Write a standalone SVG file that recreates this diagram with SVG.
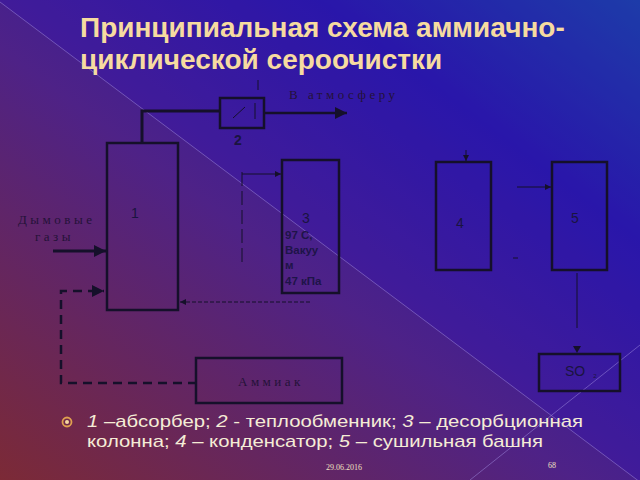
<svg xmlns="http://www.w3.org/2000/svg" width="640" height="480" viewBox="0 0 640 480">
<defs>
<linearGradient id="bg" x1="0" y1="1" x2="1" y2="0">
<stop offset="0" stop-color="#7c2a36"/>
<stop offset="0.45" stop-color="#4e2287"/>
<stop offset="0.75" stop-color="#2a1aa2"/>
<stop offset="1" stop-color="#1a4aa0"/>
</linearGradient>
<marker id="ah" viewBox="0 0 10 10" refX="10" refY="5" markerWidth="6" markerHeight="6" orient="auto" markerUnits="userSpaceOnUse">
<path d="M0,0 L10,5 L0,10 z" fill="#15102a"/>
</marker>
<marker id="ahb" viewBox="0 0 10 10" refX="10" refY="5" markerWidth="16" markerHeight="12" orient="auto" markerUnits="userSpaceOnUse">
<path d="M0,0 L10,5 L0,10 z" fill="#15102a"/>
</marker>
</defs>
<style>
.box{fill:none;stroke:#15102a;stroke-width:2.5}
.num{font-family:"Liberation Sans",Arial,sans-serif;font-size:14px;fill:#1a1440}
.ser{font-family:"Liberation Serif","Times New Roman",serif;font-size:13px;fill:#241238;letter-spacing:3.5px}
.thin{stroke:#15102a;stroke-width:1;fill:none}
.thick{stroke:#15102a;stroke-width:3;fill:none}
.title{font-family:"Liberation Sans",Arial,sans-serif;font-weight:bold;font-size:28px;fill:#f6dba0}
.body{font-family:"Liberation Sans",Arial,sans-serif;font-size:17px;fill:#f5ecd6}
.foot{font-family:"Liberation Serif","Times New Roman",serif;font-size:8px;fill:#f0e0c0}
</style>
<rect width="640" height="480" fill="url(#bg)"/>
<polygon points="0,0 640,0 640,482 0,2" fill="#2a08c8" opacity="0.22"/>
<line x1="0" y1="2" x2="640" y2="482" stroke="#a08ce0" stroke-width="1" opacity="0.5"/>
<line x1="640" y1="345" x2="470" y2="480" stroke="#a08ce0" stroke-width="1" opacity="0.5"/>

<text class="title" x="80" y="37">Принципиальная схема аммиачно-</text>
<text class="title" x="80" y="69">циклической сероочистки</text>

<g id="connectors">
<polyline class="thick" points="142,143 142,111 220,111"/>
<line x1="264" y1="113" x2="347" y2="113" stroke="#15102a" stroke-width="2.5" marker-end="url(#ahb)"/>
<line class="thin" x1="258" y1="80" x2="258" y2="90"/>
<line x1="53" y1="251" x2="106" y2="251" stroke="#15102a" stroke-width="3" marker-end="url(#ahb)"/>
<polyline points="197,383 61,383 61,291 104,291" fill="none" stroke="#15102a" stroke-width="2.5" stroke-dasharray="9,6" marker-end="url(#ahb)"/>
<line class="thin" x1="242" y1="172" x2="242" y2="262" stroke-dasharray="14,5"/>
<line class="thin" x1="242" y1="174" x2="281" y2="174" marker-end="url(#ah)"/>
<line class="thin" x1="310" y1="302" x2="180" y2="302" stroke-dasharray="4,2" marker-end="url(#ah)"/>
<line class="thin" x1="466" y1="150" x2="466" y2="161" marker-end="url(#ah)"/>
<line class="thin" x1="517" y1="187" x2="551" y2="187" marker-end="url(#ah)"/>
<line class="thin" x1="513" y1="258" x2="518" y2="258"/>
<line class="thin" x1="577" y1="273" x2="577" y2="328"/>
<path d="M573,346 L581,346 L577,353 z" fill="#15102a"/>
</g>

<g id="node1">
<rect class="box" x="107" y="143" width="71" height="167"/>
<text class="num" x="131" y="218">1</text>
</g>
<g id="node2">
<rect class="box" x="220" y="98" width="44" height="30"/>
<line class="thin" x1="233" y1="118" x2="245" y2="107"/>
<line class="thin" x1="255" y1="103" x2="255" y2="119"/>
<text class="num" x="234" y="145" font-weight="bold">2</text>
</g>
<g id="node3">
<rect class="box" x="282" y="160" width="57" height="133"/>
<text class="num" x="302" y="223">3</text>
<g font-family="'Liberation Sans',Arial,sans-serif" font-weight="bold" font-size="11.5px" fill="#1e1448">
<text x="285" y="239">97 С,</text>
<text x="285" y="254">Вакуу</text>
<text x="285" y="269">м</text>
<text x="285" y="285">47 кПа</text>
</g>
</g>
<g id="node4">
<rect class="box" x="436" y="162" width="55" height="108"/>
<text class="num" x="456" y="228">4</text>
</g>
<g id="node5">
<rect class="box" x="552" y="162" width="55" height="108"/>
<text class="num" x="571" y="223">5</text>
</g>
<g id="nodeSO2">
<rect class="box" x="539" y="354" width="81" height="37"/>
<text class="num" x="565" y="376" font-size="13px">SO<tspan font-size="6px" dx="8" dy="2">2</tspan></text>
</g>
<g id="nodeAmmonia">
<rect class="box" x="196" y="358" width="146" height="45"/>
<text class="ser" x="238" y="386">Аммиак</text>
</g>
<g id="labels">
<text class="ser" x="289" y="99">В атмосферу</text>
<text class="ser" x="18" y="224">Дымовые</text>
<text class="ser" x="35" y="241">газы</text>
</g>

<g id="legend">
<circle cx="67" cy="422" r="4.5" fill="none" stroke="#e0a050" stroke-width="1.8"/>
<circle cx="67" cy="422" r="2" fill="#f6d8a0"/>
<text class="body" x="87" y="427" textLength="496" lengthAdjust="spacingAndGlyphs"><tspan font-style="italic">1</tspan> –абсорбер; <tspan font-style="italic">2</tspan> - теплообменник; <tspan font-style="italic">3</tspan> – десорбционная</text>
<text class="body" x="87" y="447" textLength="456" lengthAdjust="spacingAndGlyphs">колонна; <tspan font-style="italic">4</tspan> – конденсатор; <tspan font-style="italic">5</tspan> – сушильная башня</text>
</g>
<text class="foot" x="326" y="470">29.06.2016</text>
<text class="foot" x="548" y="468" font-size="9px">68</text>
</svg>
